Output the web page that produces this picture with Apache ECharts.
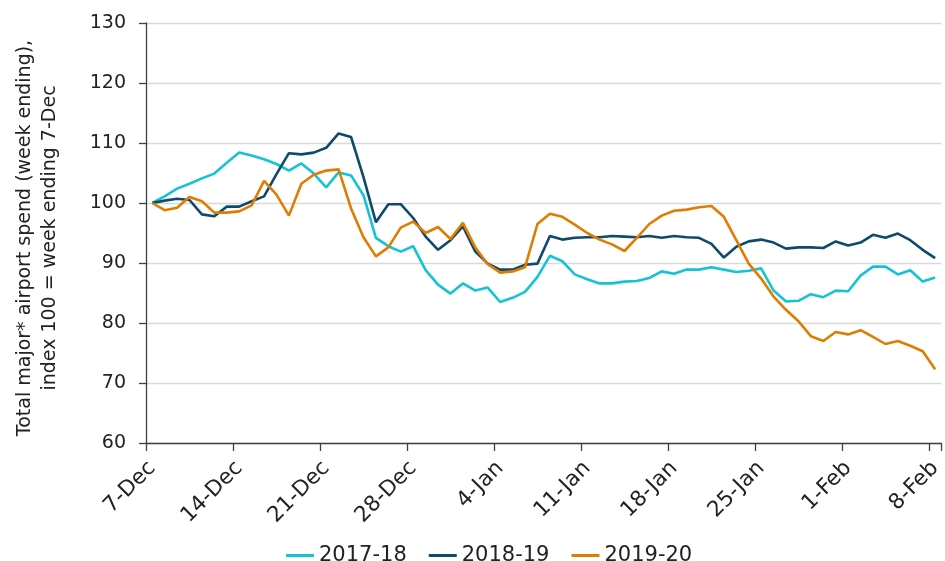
<!DOCTYPE html>
<html>
<head>
<meta charset="utf-8">
<script src="https://cdn.jsdelivr.net/npm/echarts@6/dist/echarts.min.js"></script>
<style>
html,body{margin:0;padding:0;background:#fff;}
#chart{width:945px;height:561px;}
</style>
</head>
<body>
<div id="chart"></div>
<script>
const categories = [
 '7-Dec','8-Dec','9-Dec','10-Dec','11-Dec','12-Dec','13-Dec',
 '14-Dec','15-Dec','16-Dec','17-Dec','18-Dec','19-Dec','20-Dec',
 '21-Dec','22-Dec','23-Dec','24-Dec','25-Dec','26-Dec','27-Dec',
 '28-Dec','29-Dec','30-Dec','31-Dec','1-Jan','2-Jan','3-Jan',
 '4-Jan','5-Jan','6-Jan','7-Jan','8-Jan','9-Jan','10-Jan',
 '11-Jan','12-Jan','13-Jan','14-Jan','15-Jan','16-Jan','17-Jan',
 '18-Jan','19-Jan','20-Jan','21-Jan','22-Jan','23-Jan','24-Jan',
 '25-Jan','26-Jan','27-Jan','28-Jan','29-Jan','30-Jan','31-Jan',
 '1-Feb','2-Feb','3-Feb','4-Feb','5-Feb','6-Feb','7-Feb',
 '8-Feb'
];
const seriesNames = ['2017-18','2018-19','2019-20'];
const s2017_18 = [
 100,101.1,102.4,103.2,104.1,104.9,106.7,
 108.4,107.9,107.3,106.5,105.4,106.6,104.9,
 102.6,105.1,104.6,101.3,94.2,92.8,91.9,
 92.8,88.8,86.4,84.9,86.6,85.4,85.9,
 83.5,84.2,85.2,87.7,91.2,90.3,88.1,
 87.3,86.6,86.6,86.9,87.0,87.5,88.6,
 88.2,88.9,88.9,89.3,88.9,88.5,88.7,
 89.1,85.4,83.6,83.7,84.8,84.3,85.4,
 85.3,87.9,89.4,89.4,88.1,88.8,86.9,
 87.6
];
const s2018_19 = [
 100,100.4,100.7,100.5,98.1,97.8,99.4,
 99.4,100.3,101.1,104.8,108.3,108.1,108.4,
 109.2,111.6,111.0,104.3,96.8,99.8,99.8,
 97.5,94.4,92.2,93.8,96.1,91.9,89.9,
 88.9,88.9,89.7,89.9,94.5,93.9,94.2,
 94.3,94.3,94.5,94.4,94.3,94.5,94.2,
 94.5,94.3,94.2,93.2,90.9,92.7,93.6,
 93.9,93.4,92.4,92.6,92.6,92.5,93.6,
 92.9,93.4,94.7,94.2,94.9,93.8,92.2,
 90.8
];
const s2019_20 = [
 100,98.8,99.2,101.0,100.3,98.4,98.4,
 98.6,99.6,103.7,101.4,97.9,103.2,104.7,
 105.4,105.6,99.1,94.3,91.1,92.6,95.9,
 96.9,95.0,96.0,94.0,96.7,92.6,89.8,
 88.4,88.6,89.3,96.5,98.2,97.7,96.4,
 95.0,93.9,93.1,92.0,94.2,96.5,97.9,
 98.7,98.9,99.3,99.5,97.7,93.8,89.9,
 87.4,84.4,82.2,80.3,77.8,77.0,78.5,
 78.1,78.8,77.7,76.5,77.0,76.2,75.3,
 72.3
];
const yTicks = {min: 60, max: 130, step: 10};
const colors = ['#14C4D6', '#0E4A6C', '#E07C00'];
const FONT = 'DejaVu Sans';

const chart = echarts.init(document.getElementById('chart'), null, {renderer: 'canvas'});
const allSeries = [s2017_18, s2018_19, s2019_20];
chart.setOption({
  animation: false,
  backgroundColor: '#fff',
  color: colors,
  textStyle: {fontFamily: FONT},
  grid: {left: 146, top: 23, width: 800, height: 420, containLabel: false},
  legend: {
    left: 281, top: 540,
    itemWidth: 28, itemHeight: 14, itemGap: 22,
    icon: 'path://M0,6 L28,6 L28,9 L0,9 Z',
    textStyle: {fontFamily: FONT, fontSize: 21, color: '#222'},
    data: seriesNames
  },
  xAxis: {
    type: 'category',
    data: categories,
    boundaryGap: true,
    axisLine: {lineStyle: {color: '#404040', width: 1.3}},
    axisTick: {show: true, interval: 6, length: 8, lineStyle: {color: '#404040', width: 1.3}},
    axisLabel: {interval: 6, rotate: 45, margin: 22, fontFamily: FONT, fontSize: 21.5, color: '#222'},
    splitLine: {show: false}
  },
  yAxis: {
    type: 'value',
    min: yTicks.min, max: yTicks.max, interval: yTicks.step,
    axisLine: {show: true, lineStyle: {color: '#404040', width: 1.3}},
    axisTick: {show: true, length: 7, lineStyle: {color: '#404040', width: 1.3}},
    axisLabel: {margin: 20, fontFamily: FONT, fontSize: 19, color: '#222'},
    splitLine: {show: true, lineStyle: {color: '#d9d9d9', width: 1.3}}
  },
  graphic: [{
    type: 'text',
    x: 38, y: 238,
    rotation: Math.PI / 2,
    style: {
      text: 'Total major* airport spend (week ending),\nindex 100 = week ending 7-Dec',
      font: '19px "DejaVu Sans"',
      fill: '#222',
      align: 'center',
      verticalAlign: 'middle',
      lineHeight: 25
    }
  }],
  series: seriesNames.map((name, k) => ({
    name: name,
    type: 'line',
    data: allSeries[k],
    showSymbol: false,
    symbol: 'none',
    lineStyle: {width: 2.6, color: colors[k]},
    itemStyle: {color: colors[k]}
  }))
});
</script>
</body>
</html>
